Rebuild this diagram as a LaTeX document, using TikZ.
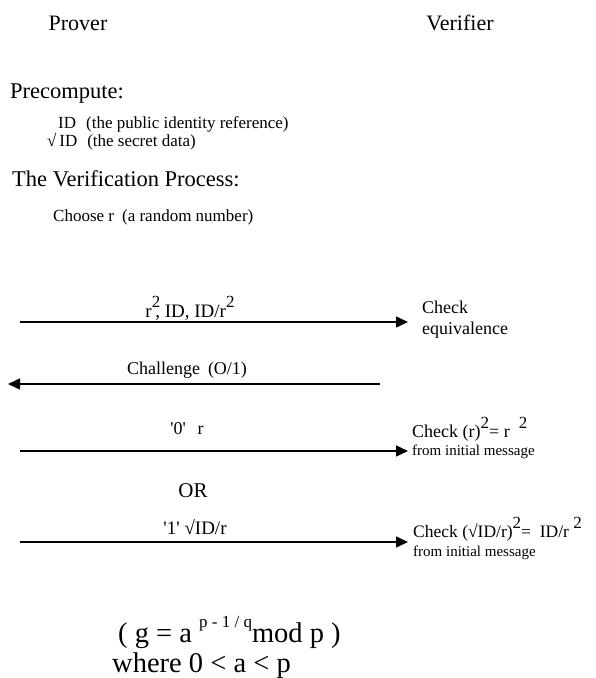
\documentclass[tikz,border=0pt]{standalone}
\usepackage{fontspec}
\setmainfont{Liberation Serif}
\usetikzlibrary{arrows.meta,positioning}
\newcommand{\supx}[2][14]{\raisebox{0.5em}{\fontsize{#1}{#1}\selectfont #2}}
\begin{document}
\begin{tikzpicture}[x=1pt, y=-1pt,
  party/.style={font=\fontsize{22}{26}\selectfont, anchor=base, inner sep=0pt},
  heading/.style={font=\fontsize{22.5}{26}\selectfont, anchor=base west, inner sep=0pt},
  note/.style={font=\fontsize{17}{20}\selectfont, anchor=base west, inner sep=0pt},
  msg/.style={font=\fontsize{18}{20}\selectfont, anchor=base, inner sep=0pt},
  check/.style={font=\fontsize{18}{20}\selectfont, anchor=base west, inner sep=0pt},
  formula/.style={font=\fontsize{28.5}{32}\selectfont, anchor=base west, inner sep=0pt},
  wire/.style={-{Triangle[length=12pt,width=11pt]}, line width=1.5pt},
]
  \useasboundingbox (0,0) rectangle (596,678);

  \node[party] (prover) at (78,30) {Prover};
  \node[party] (verifier) at (460,30) {Verifier};

  % setup
  \node[heading] (precomp) at (10,98) {Precompute:};
  \node[note] (pubid) at (58,128) {ID\hspace{10pt}(the public identity reference)};
  \node[note] (secid) at (47,146) {√\,ID\hspace{10pt}(the secret data)};
  \node[heading] (verproc) at (12,186) {The Verification Process:};
  \node[note] (choose) at (53,221) {Choose r\hspace{8pt}(a random number)};

  % messages
  \foreach \n/\y in {1/322,3/451,4/542} {
    \coordinate (s\n) at (20,\y);
    \coordinate (e\n) at (408,\y);
    \draw[wire] (s\n) -- (e\n);
  }
  \coordinate (s2) at (380,384);
  \coordinate (e2) at (8,384);
  \draw[wire] (s2) -- (e2);

  \node[msg, font=\fontsize{19}{21}\selectfont] (lab1) at (190,317) {r\supx[17]{2}\hspace{-5pt}, ID, ID/r\supx[17]{2}};
  \node[msg] (lab2) at (187,374) {Challenge\hspace{8pt}(O/1)};
  \node[msg] (lab3) at (187,434) {\textquotesingle 0\textquotesingle\hspace{12pt}r};
  \node[msg, font=\fontsize{21}{24}\selectfont] (orlab) at (193,497) {OR};
  \node[msg, font=\fontsize{19}{21}\selectfont] (lab4) at (195,534) {\textquotesingle 1\textquotesingle\ √ID/r};

  \node[check] (chk1) at (422,313) {Check};
  \node[check] (chk1b) at (422,334) {equivalence};
  \node[check] (chk3) at (412,437) {Check (r)\supx[17]{2}= r \ \supx[17]{2}};
  \node[check, font=\fontsize{15}{18}\selectfont] (chk3b) at (412,455) {from initial message};
  \node[check, font=\fontsize{17.5}{20}\selectfont] (chk4) at (413,537) {Check (√ID/r)\supx[17]{2}= \ ID/r \supx[17]{2}};
  \node[check, font=\fontsize{15}{18}\selectfont] (chk4b) at (413,556) {from initial message};

  % generator note
  \node[formula] (gdef) at (118,642) {( g = a \supx[17]{p - 1 / q}mod p )};
  \node[formula] (where) at (112,672) {where 0 \textless{} a \textless{} p};
\end{tikzpicture}
\end{document}
